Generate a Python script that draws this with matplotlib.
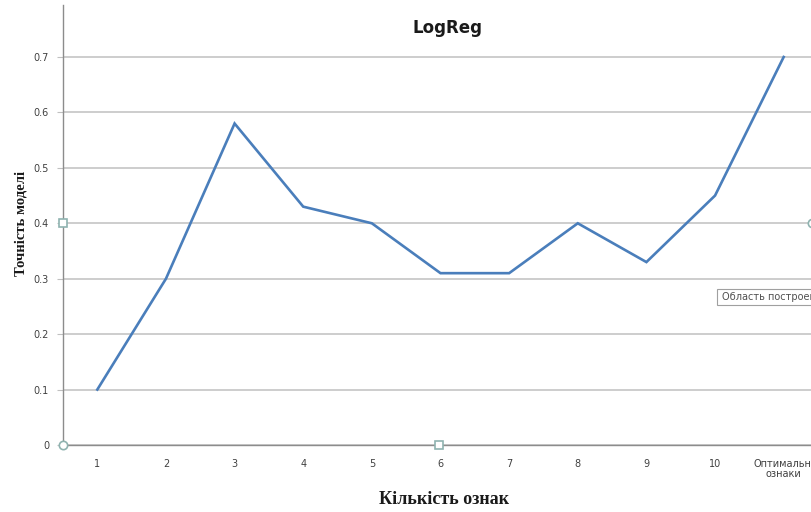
import matplotlib
matplotlib.use("Agg")
import matplotlib.pyplot as plt
from matplotlib.patches import Rectangle

categories = ["1", "2", "3", "4", "5", "6", "7", "8", "9", "10", "Оптимальні\nознаки"]
accuracy = [0.10, 0.30, 0.58, 0.43, 0.40, 0.31, 0.31, 0.40, 0.33, 0.45, 0.70]
y_ticks = [0, 0.1, 0.2, 0.3, 0.4, 0.5, 0.6, 0.7]
y_tick_labels = ["0", "0.1", "0.2", "0.3", "0.4", "0.5", "0.6", "0.7"]

W, H = 812, 512
fig = plt.figure(figsize=(W / 100, H / 100), dpi=100)
fig.patch.set_facecolor("white")

# plot area runs past the right edge of the canvas
left_px, right_px, bottom_px, top_px = 63, 818, 445, 5
ax = fig.add_axes([left_px / W, 1 - bottom_px / H,
                   (right_px - left_px) / W, (bottom_px - top_px) / H])

x = list(range(len(categories)))
ax.plot(x, accuracy, color="#4A7EBB", lw=1.9, solid_joinstyle="miter", zorder=3)

ax.set_xlim(-0.5, len(categories) - 0.5)
ax.set_ylim(0, 0.7 * (bottom_px - top_px) / (445 - 57))
ax.set_yticks(y_ticks)
ax.set_yticklabels(y_tick_labels)
ax.set_xticks(x)
ax.set_xticklabels(categories)
ax.grid(axis="y", color="#C0C0C0", lw=1.1)
ax.set_axisbelow(True)

for s in ["top", "right"]:
    ax.spines[s].set_visible(False)
ax.spines["left"].set_color("#8C8C8C")
ax.spines["bottom"].set_color("#8C8C8C")
ax.spines["left"].set_linewidth(1.0)
ax.spines["bottom"].set_linewidth(1.0)

ax.tick_params(axis="y", length=4, color="#C0C0C0", labelsize=7, labelcolor="#404040", pad=6)
ax.tick_params(axis="x", length=0, labelsize=7, labelcolor="#404040", pad=10)
for lbl in ax.get_xticklabels():
    lbl.set_linespacing(1.0)
# the last category label sits a little left of its slot
ax.get_xticklabels()[-1].set_x(len(categories) - 1.05)

fig.text(448 / W, 1 - 28 / H, "LogReg", ha="center", va="center",
         fontsize=12, fontweight="bold", family="DejaVu Sans", color="#1a1a1a")
fig.text(21 / W, 1 - 223 / H, "Точність моделі", ha="center", va="center",
         rotation=90, fontsize=10.5, fontweight="bold", family="Liberation Serif",
         color="#1a1a1a")
fig.text(444 / W, 1 - 500 / H, "Кількість ознак", ha="center", va="center",
         fontsize=13, fontweight="bold", family="Liberation Serif", color="#1a1a1a")

# selection handles of the plot area
handles = [(63, 445, "o"), (63, 223, "s"), (439, 445, "s"), (812, 223, "o")]
for hx, hy, m in handles:
    fig.add_artist(plt.Line2D([hx / W], [1 - hy / H], marker=m, markersize=6,
                              markerfacecolor="white", markeredgecolor="#8FB3B0",
                              markeredgewidth=1.2, transform=fig.transFigure))

# hover tooltip
fig.add_artist(Rectangle((717 / W, 1 - 305 / H), 110 / W, 16 / H,
                         transform=fig.transFigure, facecolor="white",
                         edgecolor="#A0A0A0", lw=0.8, zorder=5))
fig.text(722 / W, 1 - 297 / H, "Область построения", ha="left", va="center",
         fontsize=7, color="#505050", family="DejaVu Sans", zorder=6)

fig.savefig("out.png", dpi=100)
